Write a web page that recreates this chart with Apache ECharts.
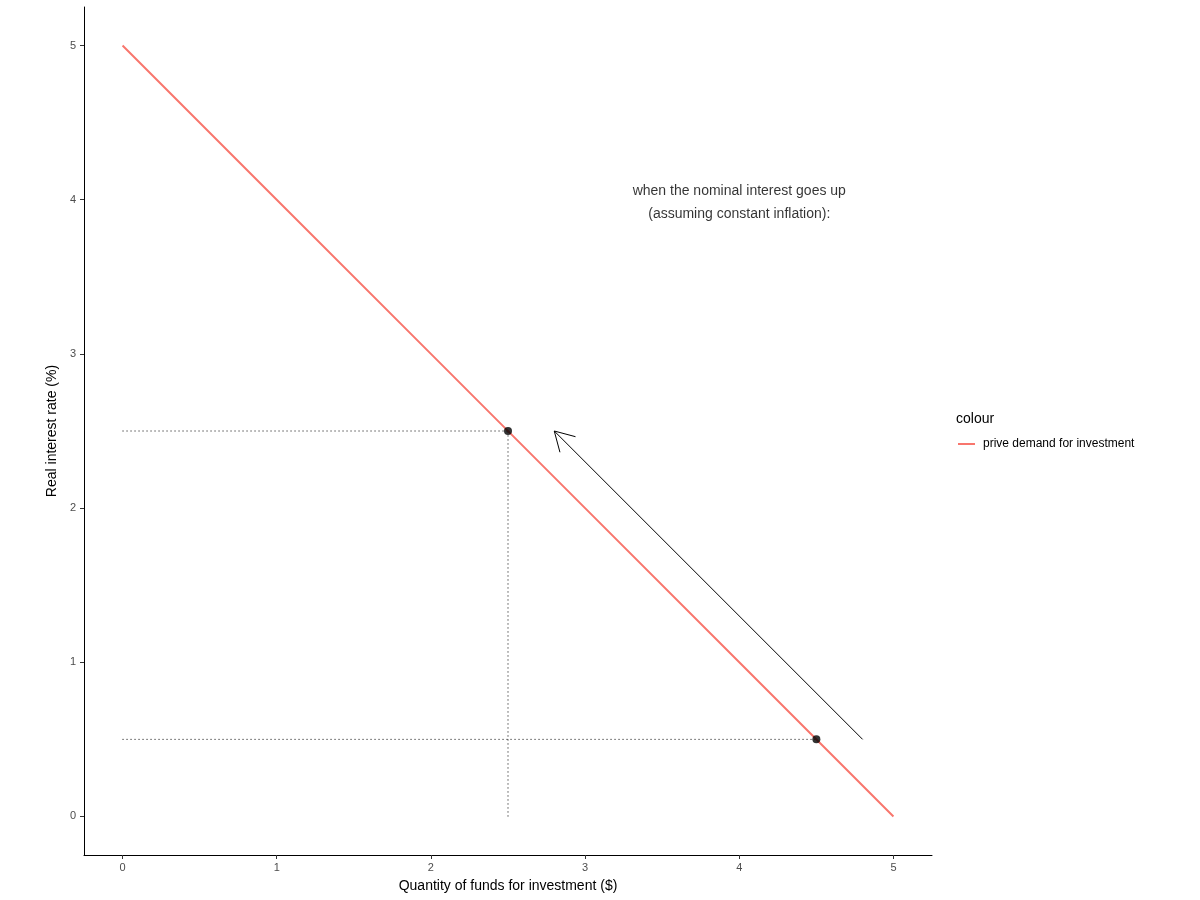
<!DOCTYPE html>
<html>
<head>
<meta charset="utf-8">
<script src="https://cdn.jsdelivr.net/npm/echarts@6/dist/echarts.min.js"></script>
<style>
  html, body { margin: 0; padding: 0; background: #fff; }
  #chart { width: 1200px; height: 900px; }
</style>
</head>
<body>
<div id="chart"></div>
<script>
// demand curve
const demandX = [0, 1, 2, 3, 4, 5]
const demandY = [5, 4, 3, 2, 1, 0]
// highlighted points
const pointX = [2.5, 4.5]
const pointY = [2.5, 0.5]
// arrow from -> to
const arrowFrom = [4.8, 0.5]
const arrowTo = [2.8, 2.5]
const tickValues = [0, 1, 2, 3, 4, 5]
const noteText = 'when the nominal interest goes up\n(assuming constant inflation):'
const notePos = [4, 4]

const font = 'Liberation Sans, Arial, sans-serif'
const red = '#F8766D'

const dotted = { color: '#000', width: 1, type: [1, 3] }

// dotted guide segments
const guides = pointX.map((x, i) => [[0, pointY[i]], [x, pointY[i]]])
guides.push([[pointX[0], 0], [pointX[0], pointY[0]]])

const chart = echarts.init(document.getElementById('chart'))

const option = {
    animation: false,
    textStyle: { fontFamily: font },
    grid: { left: 84, right: 268, top: 7, bottom: 45 },
    title: {
        text: 'colour',
        left: 951,
        top: 407,
        textStyle: { fontSize: 14, fontWeight: 'normal', color: '#000', fontFamily: font }
    },
    legend: {
        data: ['prive demand for investment'],
        left: 953,
        top: 433,
        orient: 'vertical',
        icon: 'rect',
        itemWidth: 17,
        itemHeight: 2,
        itemGap: 8,
        textStyle: { fontSize: 12, color: '#000', fontFamily: font, padding: [0, 0, 0, 3] }
    },
    xAxis: {
        type: 'value',
        min: -0.25,
        max: 5.25,
        name: 'Quantity of funds for investment ($)',
        nameLocation: 'middle',
        nameGap: 24,
        nameTextStyle: { fontSize: 14, color: '#000' },
        axisLine: { show: true, onZero: false, lineStyle: { color: '#000', width: 1 } },
        axisTick: { show: true, length: 4, lineStyle: { color: '#333' }, customValues: tickValues },
        axisLabel: { fontSize: 11, color: '#4d4d4d', margin: 7, customValues: tickValues },
        splitLine: { show: false }
    },
    yAxis: {
        type: 'value',
        min: -0.25,
        max: 5.25,
        name: 'Real interest rate (%)',
        nameLocation: 'middle',
        nameGap: 10,
        nameTextStyle: { fontSize: 14, color: '#000' },
        axisLine: { show: true, onZero: false, lineStyle: { color: '#000', width: 1 } },
        axisTick: { show: true, length: 4, lineStyle: { color: '#333' }, customValues: tickValues },
        axisLabel: { fontSize: 11, color: '#4d4d4d', margin: 8, customValues: tickValues },
        splitLine: { show: false }
    },
    series: [
        {
            name: 'prive demand for investment',
            type: 'line',
            data: demandX.map((x, i) => [x, demandY[i]]),
            showSymbol: false,
            lineStyle: { color: red, width: 2 },
            itemStyle: { color: red },
            z: 3
        },
        ...guides.map(seg => ({
            name: 'guide',
            type: 'line',
            data: seg,
            showSymbol: false,
            lineStyle: dotted,
            z: 2
        })),
        {
            name: 'points',
            type: 'scatter',
            data: pointX.map((x, i) => [x, pointY[i]]),
            symbolSize: 8,
            itemStyle: { color: '#000' },
            z: 4
        },
        {
            // open-headed arrow
            name: 'arrow',
            type: 'custom',
            data: [[arrowFrom[0], arrowFrom[1], arrowTo[0], arrowTo[1]]],
            renderItem(params, api) {
                const p0 = api.coord([api.value(0), api.value(1)])
                const p1 = api.coord([api.value(2), api.value(3)])
                const ang = Math.atan2(p0[1] - p1[1], p0[0] - p1[0])
                const len = 22
                const spread = Math.PI / 6
                const h1 = [p1[0] + len * Math.cos(ang + spread), p1[1] + len * Math.sin(ang + spread)]
                const h2 = [p1[0] + len * Math.cos(ang - spread), p1[1] + len * Math.sin(ang - spread)]
                const style = { stroke: '#000', lineWidth: 1, fill: null }
                return {
                    type: 'group',
                    children: [
                        { type: 'line', shape: { x1: p0[0], y1: p0[1], x2: p1[0], y2: p1[1] }, style },
                        { type: 'polyline', shape: { points: [h1, p1, h2] }, style }
                    ]
                }
            },
            z: 2
        },
        {
            name: 'note',
            type: 'scatter',
            data: [notePos],
            symbolSize: 0,
            label: {
                show: true,
                position: 'inside',
                offset: [0, 3],
                formatter: noteText,
                fontSize: 14,
                lineHeight: 23,
                color: '#000',
                align: 'center',
                fontFamily: font
            }
        }
    ]
}

chart.setOption(option)
</script>
</body>
</html>
